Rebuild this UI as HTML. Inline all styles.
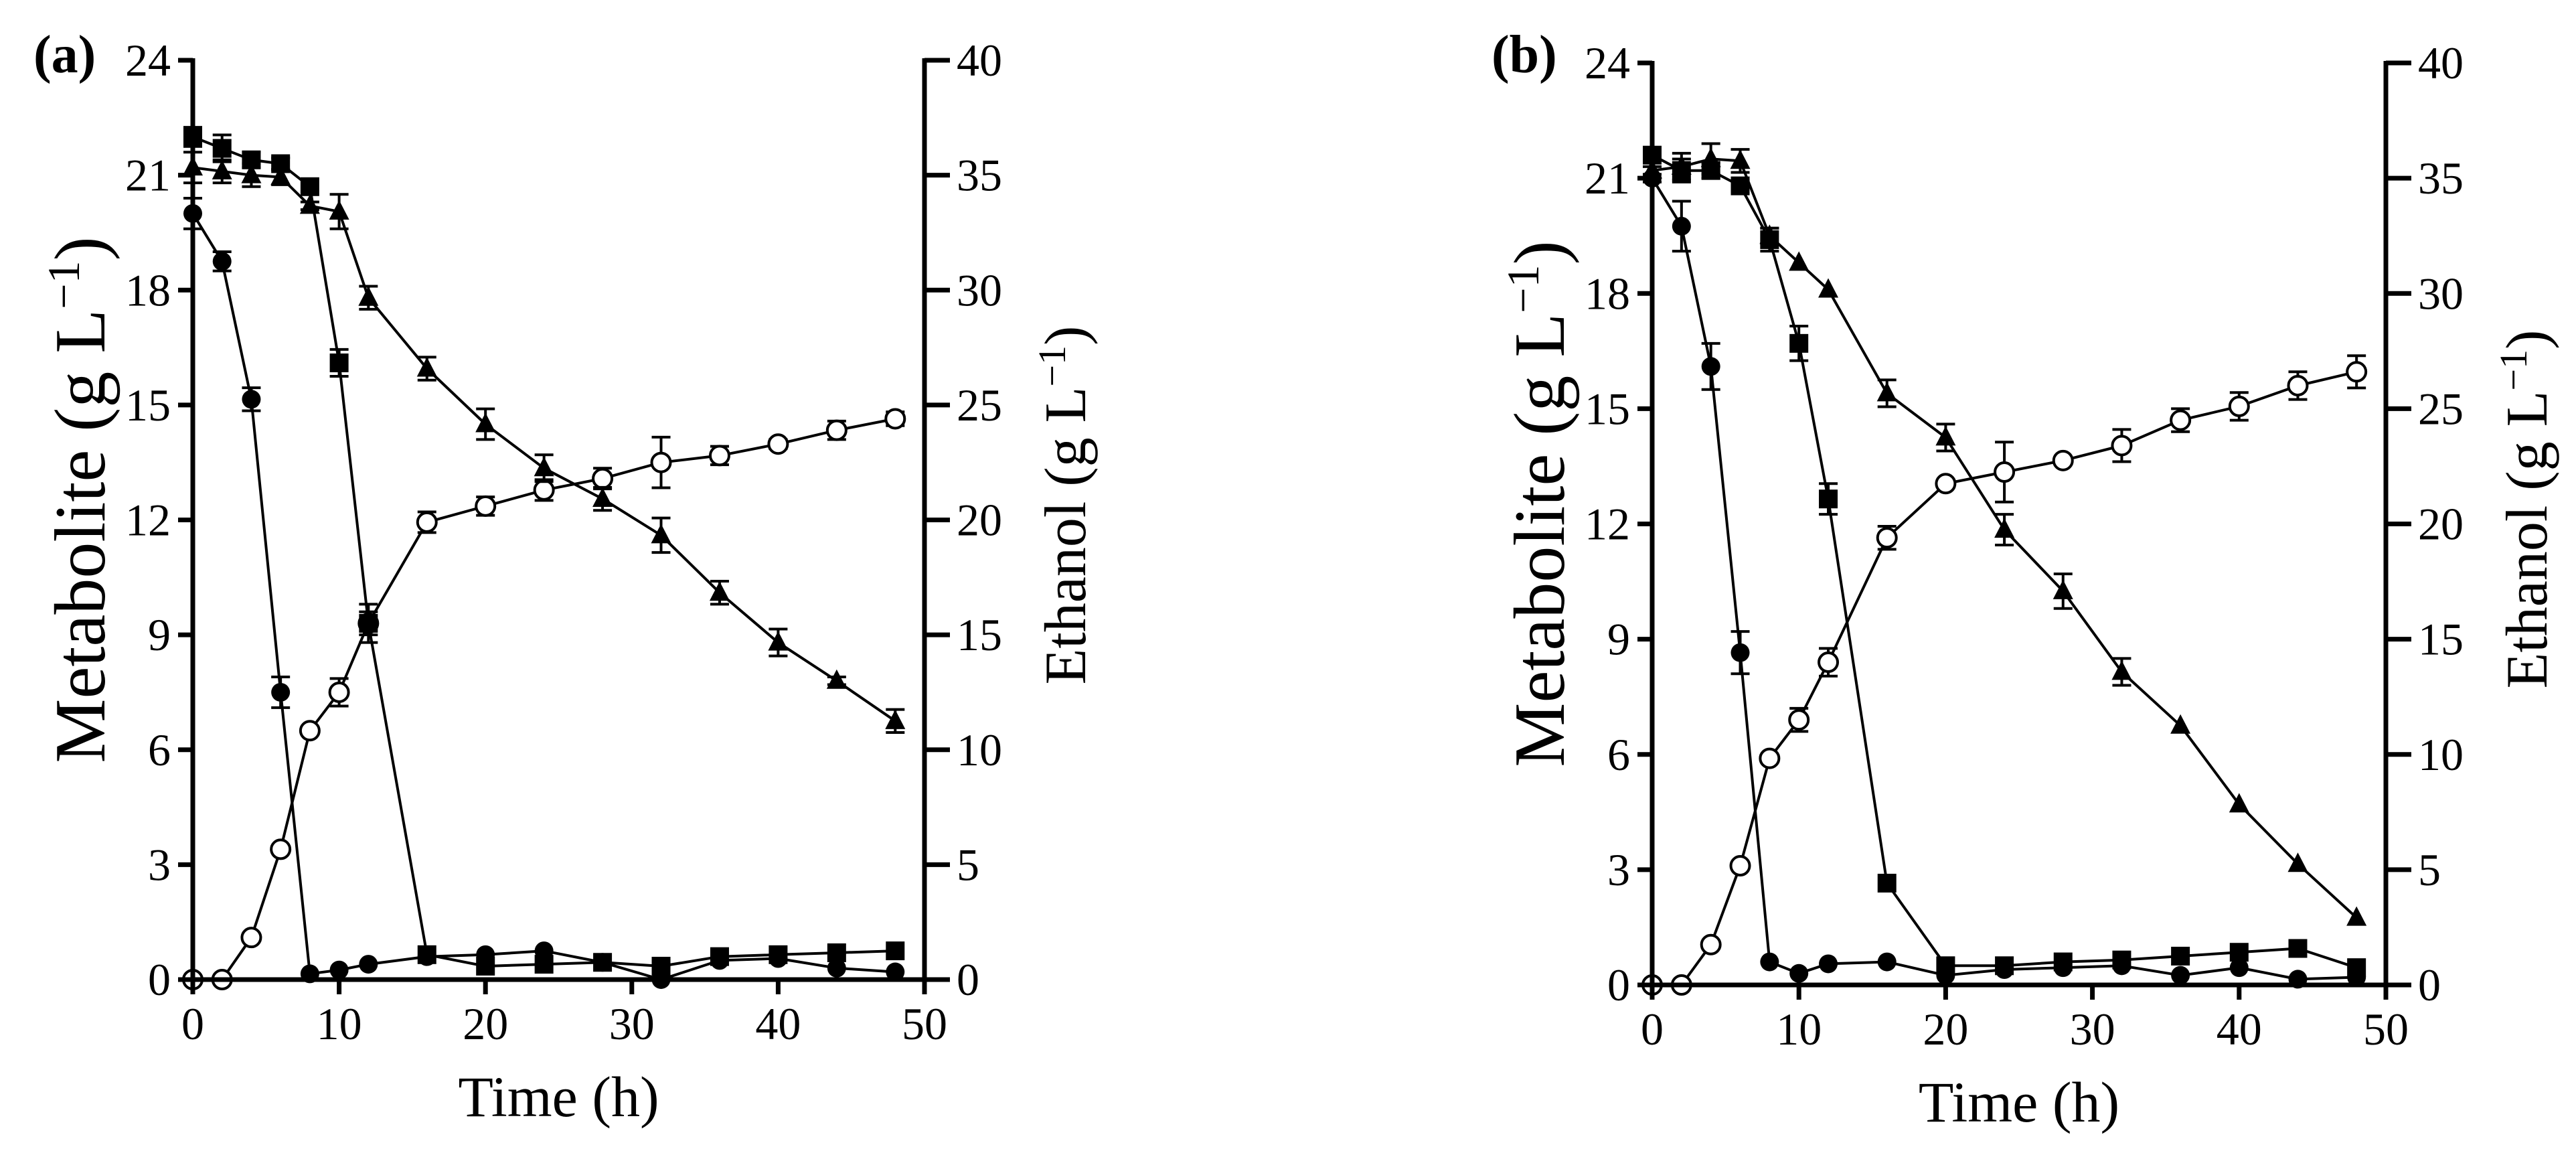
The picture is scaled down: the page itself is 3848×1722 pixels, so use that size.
<!DOCTYPE html>
<html><head><meta charset="utf-8">
<style>
html,body{margin:0;padding:0;background:#fff;}
svg{display:block;font-family:"Liberation Serif","DejaVu Serif",serif;}
</style></head>
<body>
<svg id="fig" width="3848" height="1722" viewBox="0 0 3848 1722" xmlns="http://www.w3.org/2000/svg"></svg>
<script>
// shared data
const times = [0,2,4,6,8,10,12,16,20,24,28,32,36,40,44,48];
const xTicks = [0,10,20,30,40,50];
const yLeftTicks = [0,3,6,9,12,15,18,21,24];
const yRightTicks = [0,5,10,15,20,25,30,35,40];

// panel (a) — metabolites (g/L) and ethanol (g/L, right axis)
const aCircle   = [20,18.75,15.15,7.5,0.15,0.25,0.4,0.6,0.65,0.75,0.45,0.0,0.5,0.55,0.3,0.2];
const aSquare   = [22,21.7,21.4,21.3,20.7,16.1,9.3,0.65,0.35,0.4,0.45,0.35,0.6,0.65,0.7,0.75];
const aTriangle = [21.2,21.1,21.0,20.95,20.2,20.05,17.8,15.95,14.5,13.35,12.55,11.6,10.1,8.8,7.8,6.75];
const aEthanol  = [0,0,1.83,5.67,10.83,12.5,15.5,19.9,20.6,21.3,21.8,22.5,22.8,23.3,23.9,24.4];
const aCircleErr   = [0.4,0.25,0.3,0.4,0,0,0,0,0,0,0,0,0,0,0,0];
const aSquareErr   = [0.25,0.35,0.2,0.15,0,0.35,0.5,0,0,0,0,0,0,0,0,0];
const aTriangleErr = [0.4,0.3,0.3,0.2,0.1,0.45,0.3,0.3,0.4,0.35,0.3,0.45,0.3,0.35,0.1,0.3];
const aEthanolErr  = [0,0,0,0,0,0.6,0.5,0.45,0.4,0.45,0.45,1.1,0.4,0.2,0.4,0.3];

// panel (b)
const bCircle   = [21.0,19.75,16.1,8.65,0.6,0.3,0.55,0.6,0.25,0.4,0.45,0.5,0.25,0.45,0.15,0.2];
const bSquare   = [21.6,21.2,21.2,20.8,19.4,16.7,12.65,2.65,0.5,0.5,0.6,0.65,0.75,0.85,0.95,0.45];
const bTriangle = [21.2,21.3,21.5,21.45,19.5,18.8,18.1,15.4,14.25,11.85,10.25,8.15,6.75,4.7,3.15,1.75];
const bEthanol  = [0,0,1.75,5.17,9.83,11.5,14.0,19.4,21.75,22.25,22.75,23.4,24.5,25.1,26.0,26.6];
const bCircleErr   = [0.1,0.65,0.6,0.55,0,0,0,0,0,0,0,0,0,0,0,0];
const bSquareErr   = [0.2,0.3,0.2,0.15,0.3,0.45,0.4,0,0,0,0,0,0,0,0,0];
const bTriangleErr = [0.1,0.35,0.4,0.3,0.2,0,0,0.35,0.35,0.4,0.45,0.35,0,0,0,0];
const bEthanolErr  = [0,0,0,0,0,0.5,0.6,0.5,0,1.3,0,0.7,0.5,0.6,0.6,0.7];

const NS = "http://www.w3.org/2000/svg";
const svg = document.getElementById('fig');
function mk(tag, attrs, parent){
  const e = document.createElementNS(NS, tag);
  for (const k in attrs) e.setAttribute(k, attrs[k]);
  (parent||svg).appendChild(e);
  return e;
}

function panel(cfg){
  const g = mk('g', {});
  
  
  const X = t => cfg.x0 + (cfg.x1 - cfg.x0) * t / 50;
  const Y = v => cfg.y0 - (cfg.y0 - cfg.y1) * v / 24;
  const YR = v => cfg.y0 - (cfg.y0 - cfg.y1) * v / 40;
  const sw = 7;

  function series(name, vals, errs, yf, shape){
    const sg = mk('g', {}, g);
    
    
    const pts = vals.map((v,i)=>X(times[i]).toFixed(1)+','+yf(v).toFixed(1)).join(' ');
    const pl = mk('polyline', {points: pts, fill:'none', stroke:'#000', 'stroke-width':4, 'stroke-linejoin':'round'}, sg);
    
    
    vals.forEach((v,i)=>{
      const cx = X(times[i]), cy = yf(v);
      if (errs[i] > 0) {
        const eu = yf(v + errs[i]), ed = yf(v - errs[i]);
        const eb = mk('path', {d:`M${cx},${eu}V${ed}M${cx-14},${eu}H${cx+14}M${cx-14},${ed}H${cx+14}`, stroke:'#000','stroke-width':4, fill:'none'}, sg);
        
        
      }
      let m;
      if (shape === 'circle') m = mk('circle', {cx:cx, cy:cy, r:14, fill:'#000'}, sg);
      else if (shape === 'open') m = mk('circle', {cx:cx, cy:cy, r:14, fill:'#fff', stroke:'#000', 'stroke-width':4}, sg);
      else if (shape === 'square') m = mk('rect', {x:cx-14, y:cy-14, width:28, height:28, fill:'#000'}, sg);
      else m = mk('polygon', {points:`${cx},${cy-17} ${cx+15},${cy+12} ${cx-15},${cy+12}`, fill:'#000'}, sg);
      
      
    });
  }
  series('ethanol', cfg.eth, cfg.ethErr, YR, 'open');
  series('triangle', cfg.tri, cfg.triErr, Y, 'tri');
  series('circle', cfg.cir, cfg.cirErr, Y, 'circle');
  series('square', cfg.sq, cfg.sqErr, Y, 'square');

  const ax = mk('path', {d:`M${cfg.x0},${cfg.y1-3}V${cfg.y0}H${cfg.x1}V${cfg.y1-3}`, stroke:'#000','stroke-width':sw, fill:'none'}, g);
  
  

  xTicks.forEach(t=>{
    const x = X(t);
    const tk = mk('line', {x1:x, y1:cfg.y0, x2:x, y2:cfg.y0+22, stroke:'#000','stroke-width':sw}, g);
    
    
    const tl = mk('text', {x:x, y:cfg.y0+89, 'font-size':68, 'text-anchor':'middle'}, g);
    tl.textContent = t;
    
    
  });
  yLeftTicks.forEach(v=>{
    const y = Y(v);
    const tk = mk('line', {x1:cfg.x0-22, y1:y, x2:cfg.x0, y2:y, stroke:'#000','stroke-width':sw}, g);
    
    
    const tl = mk('text', {x:cfg.x0-33, y:y+23, 'font-size':68, 'text-anchor':'end'}, g);
    tl.textContent = v;
    
    
  });
  yRightTicks.forEach(v=>{
    const y = YR(v);
    const tk = mk('line', {x1:cfg.x1, y1:y, x2:cfg.x1+38, y2:y, stroke:'#000','stroke-width':sw}, g);
    
    
    const tl = mk('text', {x:cfg.x1+48, y:y+23, 'font-size':68, 'text-anchor':'start'}, g);
    tl.textContent = v;
    
    
  });

  const midX = (cfg.x0+cfg.x1)/2, midY = (cfg.y0+cfg.y1)/2;
  const xl = mk('text', {x:midX, y:cfg.y0+204, 'font-size':86, 'text-anchor':'middle'}, g);
  xl.textContent = 'Time (h)';
  
  

  const yl = mk('text', {x:0, y:0, 'font-size':108, 'text-anchor':'middle', transform:`translate(${cfg.x0-132},${midY-30}) rotate(-90)`}, g);
  yl.innerHTML = 'Metabolite (g L<tspan font-size="68" dy="-38">−1</tspan><tspan dy="38">)</tspan>';
  
  

  const yr = mk('text', {x:0, y:0, 'font-size':88, 'text-anchor':'middle', transform:`translate(${cfg.x1+240},${midY-22}) rotate(-90)`}, g);
  yr.innerHTML = 'Ethanol (g L<tspan font-size="58" dy="-30">−1</tspan><tspan dy="30">)</tspan>';
  
  

  const pl = mk('text', {x:cfg.lx, y:108, 'font-size':80, 'font-weight':'bold'}, g);
  pl.textContent = '(' + cfg.id + ')';
  
  
}

panel({id:'a', x0:288, x1:1381, y0:1463, y1:90, lx:50,
  cir:aCircle, sq:aSquare, tri:aTriangle, eth:aEthanol,
  cirErr:aCircleErr, sqErr:aSquareErr, triErr:aTriangleErr, ethErr:aEthanolErr});
panel({id:'b', x0:2468, x1:3564, y0:1471, y1:94, lx:2228,
  cir:bCircle, sq:bSquare, tri:bTriangle, eth:bEthanol,
  cirErr:bCircleErr, sqErr:bSquareErr, triErr:bTriangleErr, ethErr:bEthanolErr});
</script>
</body></html>
